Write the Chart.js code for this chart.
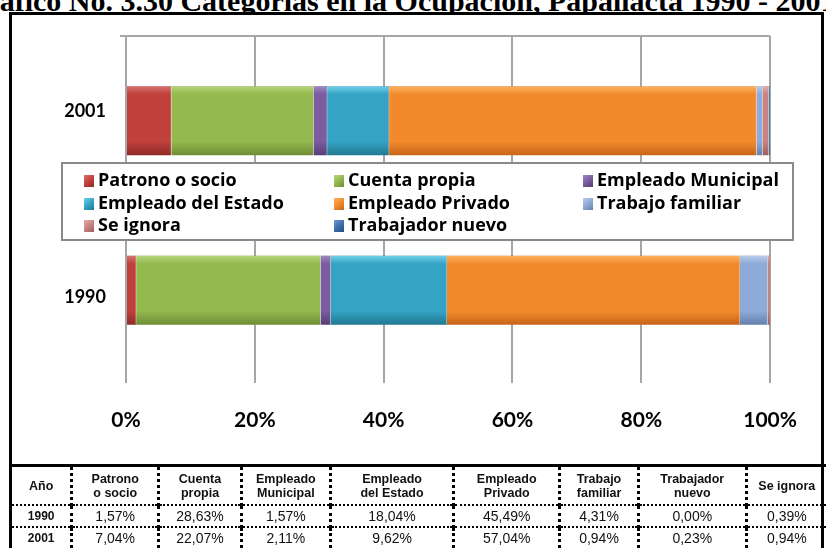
<!DOCTYPE html>
<html>
<head>
<meta charset="utf-8">
<script src="https://cdn.jsdelivr.net/npm/chart.js@4.4.1/dist/chart.umd.min.js"></script>
<style>
    body { margin: 0; width: 826px; height: 548px; overflow: hidden; background: #fff; position: relative; font-family: "Liberation Sans", Arial, sans-serif; }
    #title { position: absolute; left: -37px; top: -14px; font: bold 30px/1 "Liberation Serif", "Times New Roman", serif; white-space: nowrap; color: #000; }
    #frame { position: absolute; left: 9px; top: 12px; width: 815px; height: 560px; border: 3px solid #000; box-sizing: border-box; background: #fff; }
    #chartBox { position: absolute; left: 12px; top: 15px; width: 810px; height: 450px; }
    #tbl { position: absolute; left: 12px; top: 464px; border-collapse: collapse; table-layout: fixed; border-top: 3px solid #000; }
    #tbl td { text-align: center; padding: 0; color: #111; }
    #tbl td + td { border-left: 3px dotted #000; }
    #tbl tr.head td { height: 37px; font-weight: bold; font-size: 12.5px; line-height: 14px; border-bottom: 2px dotted #000; }
    #tbl tr.row td { height: 20px; font-size: 14px; }
    #tbl tr.row td:first-child { font-weight: bold; font-size: 12px; }
    #tbl tr.row:not(:last-child) td { border-bottom: 2px dotted #000; }
</style>
</head>
<body>
<div id="title">Gráfico No. 3.30 Categorías en la Ocupación, Papallacta 1990 - 2001</div>
<div id="frame"></div>
<div id="chartBox"><canvas id="chart"></canvas></div>
<table id="tbl"></table>

<script>
// ---------------- DATA ----------------
const years = ["1990", "2001"];
const series = ["Patrono o socio", "Cuenta propia", "Empleado Municipal", "Empleado del Estado",
                "Empleado Privado", "Trabajo familiar", "Se ignora", "Trabajador nuevo"];
const values1990 = [1.57, 28.63, 1.57, 18.04, 45.49, 4.31, 0.39, 0.00];
const values2001 = [7.04, 22.07, 2.11, 9.62, 57.04, 0.94, 0.94, 0.23];
const tickLabels = ["0%", "20%", "40%", "60%", "80%", "100%"];

// table columns (order as in the source table)
const tableHeads = ["Año", "Patrono<br>o socio", "Cuenta<br>propia", "Empleado<br>Municipal", "Empleado<br>del Estado",
                    "Empleado<br>Privado", "Trabajo<br>familiar", "Trabajador<br>nuevo", "Se ignora"];
const tableOrder = [0, 1, 2, 3, 4, 5, 7, 6];
const colWidths = [60, 87, 83, 89, 124, 106, 79, 108, 80];

// base / light / dark shades per series
const colors = [
    ["#c0403c", "#d8736f", "#8f2a27"],
    ["#94b94e", "#b6d67c", "#6d8b34"],
    ["#7b5ca0", "#a088c0", "#563d76"],
    ["#35a3c4", "#72d1ea", "#207891"],
    ["#f28a2c", "#fbb45e", "#c6631a"],
    ["#8eaad8", "#b9cdea", "#6580ac"],
    ["#c98382", "#e3abaa", "#9a5e5d"],
    ["#3f6fad", "#6d98d0", "#264b7f"]
];

const BAR_FRACTION = 0.82 * 0.5;
// the year labels sit a little off the bar centre in the original
const yearLabelShift = [7, -10];

function barFill(c) {
    return function (ctx) {
        const chart = ctx.chart;
        const y = chart.scales.y;
        if (!y || !y.height || ctx.type !== "data") return c[0];
        const mid = y.getPixelForValue(ctx.dataIndex);
        const half = y.height / years.length * BAR_FRACTION / 2;
        const g = chart.ctx.createLinearGradient(0, mid - half, 0, mid + half);
        g.addColorStop(0, c[1]);
        g.addColorStop(0.12, c[0]);
        g.addColorStop(0.8, c[0]);
        g.addColorStop(1, c[2]);
        return g;
    };
}

const datasets = series.map((name, i) => ({
    label: name,
    data: [values1990[i], values2001[i]],
    backgroundColor: barFill(colors[i]),
    borderColor: colors[i][2],
    borderWidth: 0.5,
    categoryPercentage: 0.82,
    barPercentage: 0.5
}));

// ---------------- LEGEND + YEAR LABELS ----------------
const legendBox = {
    id: "legendBox",
    afterDatasetsDraw(chart) {
        const ctx = chart.ctx;
        ctx.save();

        // year labels on the category axis
        const ys = chart.scales.y;
        ctx.font = "bold 18px Lato, sans-serif";
        ctx.fillStyle = "#000";
        ctx.textAlign = "right";
        ctx.textBaseline = "middle";
        years.forEach((yr, i) => {
            ctx.fillText(yr, ys.right - 20, ys.getPixelForValue(i) + yearLabelShift[i]);
        });

        ctx.textAlign = "left";
        ctx.fillStyle = "#fff";
        ctx.fillRect(50, 148, 731, 77);
        ctx.strokeStyle = "#8a8a8a";
        ctx.lineWidth = 2;
        ctx.strokeRect(50, 148, 731, 77);

        const colX = [72, 322, 571];
        const rowY = [166, 189, 211];
        ctx.font = "bold 18px 'Open Sans', Lato, sans-serif";
        chart.data.datasets.forEach((ds, i) => {
            const x = colX[i % 3], y = rowY[Math.floor(i / 3)];
            const c = colors[i];
            const g = ctx.createLinearGradient(x, y - 6, x + 10, y + 6);
            g.addColorStop(0, c[1]);
            g.addColorStop(0.5, c[0]);
            g.addColorStop(1, c[2]);
            ctx.fillStyle = g;
            ctx.fillRect(x, y - 6, 10, 12);
            ctx.fillStyle = "#000";
            ctx.fillText(ds.label, x + 14, y);
        });
        ctx.restore();
    }
};

// ---------------- CHART ----------------
new Chart(document.getElementById("chart"), {
    type: "bar",
    data: { labels: years, datasets },
    options: {
        indexAxis: "y",
        responsive: true,
        maintainAspectRatio: false,
        animation: false,
        layout: { padding: { top: 21, right: 45, left: 0, bottom: 0 } },
        plugins: { legend: { display: false }, tooltip: { enabled: false } },
        scales: {
            x: {
                stacked: true,
                min: 0,
                max: 100,
                ticks: {
                    stepSize: 20,
                    padding: 25,
                    color: "#000",
                    font: { family: "Lato", size: 21, weight: "bold" },
                    callback: (v, i) => tickLabels[i]
                },
                grid: { color: "#a6a6a6", lineWidth: 2, tickLength: 8 },
                border: { display: false },
                afterFit: s => { s.height = 90; }
            },
            y: {
                stacked: true,
                reverse: true,
                ticks: { display: false },
                grid: {
                    offset: true,
                    tickLength: 6,
                    lineWidth: 2,
                    color: c => c.index === 0 ? "rgba(0,0,0,0)" : "#a6a6a6"
                },
                border: { display: false },
                afterFit: s => { s.width = 114; }
            }
        }
    },
    plugins: [legendBox]
});

// ---------------- TABLE ----------------
function pct(v) { return v.toFixed(2).replace(".", ",") + "%"; }

const tbl = document.getElementById("tbl");
let html = "<colgroup>" + colWidths.map(w => `<col style="width:${w}px">`).join("") + "</colgroup>";
html += `<tr class="head">${tableHeads.map(h => `<td>${h}</td>`).join("")}</tr>`;
[values1990, values2001].forEach((vals, r) => {
    html += `<tr class="row"><td>${years[r]}</td>${tableOrder.map(i => `<td>${pct(vals[i])}</td>`).join("")}</tr>`;
});
tbl.innerHTML = html;
</script>
</body>
</html>
